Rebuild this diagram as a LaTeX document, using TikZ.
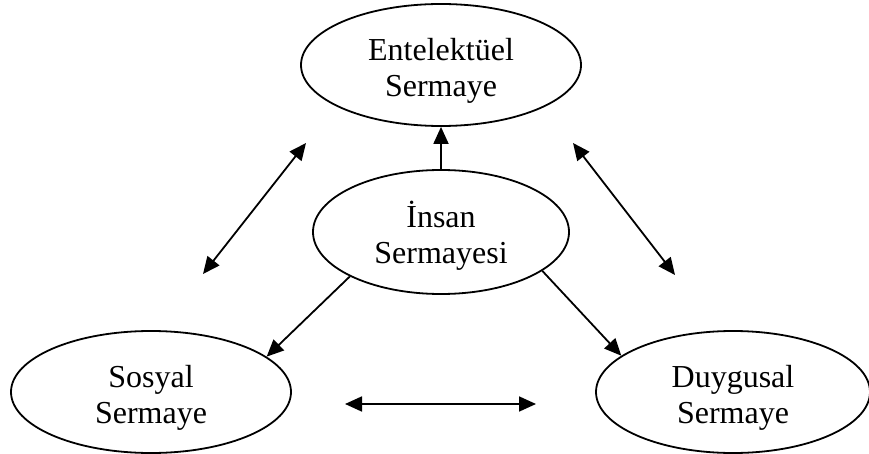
\documentclass[tikz,border=0pt]{standalone}
\usepackage{fontspec}
\setmainfont{Liberation Serif}
\usetikzlibrary{shapes.geometric,arrows.meta}
% extra height above the first line, lowering the two-line labels a little
\newcommand{\toppad}{\rule{0pt}{34pt}}
\begin{document}
\begin{tikzpicture}[x=1pt,y=-1pt,
  capital/.style={ellipse, draw, line width=1.8pt, inner sep=0pt, align=center,
    minimum width=280pt, minimum height=122pt,
    font=\fontsize{32}{36}\selectfont},
  tip/.tip={Triangle[length=17pt,width=15pt]},
  link/.style={line width=1.8pt, -tip},
  twoway/.style={line width=1.8pt, tip-tip}]
\useasboundingbox (0,0) rectangle (869,454);

% the four kinds of capital
\node[capital] (ent) at (441,65) {\toppad Entelektüel\\Sermaye};
\node[capital, minimum width=256pt, minimum height=124pt] (ins) at (441,232) {\toppad İnsan\\Sermayesi};
\node[capital] (sos) at (151,392) {\toppad Sosyal\\Sermaye};
\node[capital, minimum width=274pt] (duy) at (733,392) {\toppad Duygusal\\Sermaye};

% free ends of the two-way arrows
\coordinate (l1) at (306,143);
\coordinate (l2) at (203,274);
\coordinate (r1) at (573,143);
\coordinate (r2) at (675,275);
\coordinate (h1) at (345,404);
\coordinate (h2) at (536,404);

% human capital feeds the other three
\draw[link] (ins.north) -- (ent.south);
\draw[link] (ins.206) -- (sos.17);
\draw[link] (ins.339) -- (duy.162);

% mutual relations
\draw[twoway] (l1) -- (l2);
\draw[twoway] (r1) -- (r2);
\draw[twoway] (h1) -- (h2);
\end{tikzpicture}
\end{document}
